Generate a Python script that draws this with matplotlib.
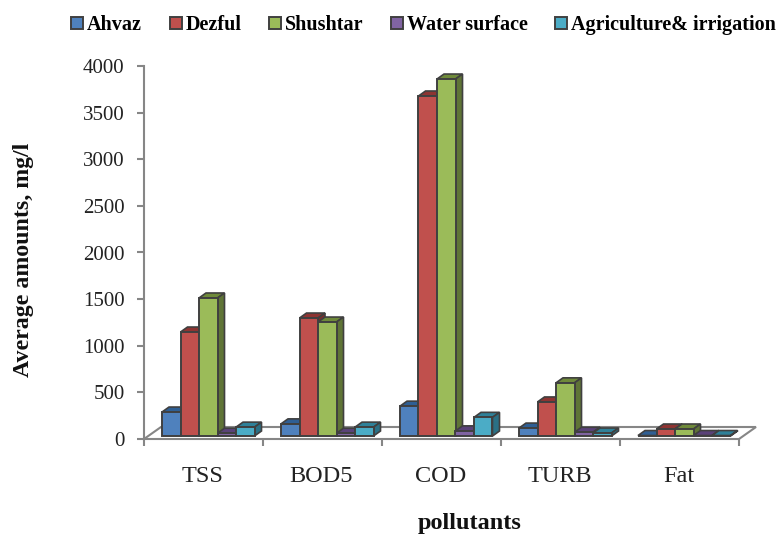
import matplotlib
matplotlib.use("Agg")
import matplotlib.pyplot as plt
from matplotlib.patches import Patch, Polygon

pollutants = ["TSS", "BOD5", "COD", "TURB", "Fat"]
ahvaz = [257, 130, 320, 85, 5]
dezful = [1115, 1265, 3646, 365, 75]
shushtar = [1480, 1222, 3828, 570, 75]
water_surface = [30, 30, 55, 40, 5]
agriculture = [95, 95, 200, 32, 5]
y_ticks = [0, 500, 1000, 1500, 2000, 2500, 3000, 3500, 4000]

series_names = ["Ahvaz", "Dezful", "Shushtar", "Water surface", "Agriculture& irrigation"]
series = [ahvaz, dezful, shushtar, water_surface, agriculture]
front_colors = ["#4F81BD", "#C0504D", "#9BBB59", "#8064A2", "#4BACC6"]
top_colors = ["#2F5F94", "#8E3432", "#6F8A3A", "#5A4279", "#2F8199"]
side_colors = ["#2C5580", "#7A2E2C", "#5F7436", "#4C3868", "#2A7085"]
edge = "#404040"
axis_gray = "#868686"

plt.rcParams["font.family"] = ["Liberation Serif", "DejaVu Serif"]

W, H = 778, 535
fig = plt.figure(figsize=(W / 100, H / 100), dpi=100)
ax = fig.add_axes([144 / W, (H - 439) / H, 595 / W, 373 / H])
ax.set_xlim(0, 5)
ax.set_ylim(0, 4000)

# pseudo 3d offsets, in data units
px_x = 5 / 595
px_y = 4000 / 373
bar_w = 18.5 * px_x
dx = 7 * px_x
dy = 5 * px_y
floor_y = 3 * px_y
gap = 18 * px_x

# floor outline behind the bars
floor_x = 17 * px_x
floor_h = 12 * px_y
ax.add_patch(Polygon([(0, 0), (floor_x, floor_h), (5 + floor_x, floor_h), (5, 0)],
                     closed=False, fill=False, edgecolor=axis_gray, lw=1.5,
                     clip_on=False, zorder=1))

z = 2
for i in range(len(pollutants)):
    for j, vals in enumerate(series):
        x0 = i + gap + j * bar_w
        y1 = floor_y + vals[i]
        x1 = x0 + bar_w
        top = Polygon([(x0, y1), (x0 + dx, y1 + dy), (x1 + dx, y1 + dy), (x1, y1)],
                      facecolor=top_colors[j], edgecolor=edge, lw=1.2, clip_on=False, zorder=z)
        side = Polygon([(x1, floor_y), (x1 + dx, floor_y + dy), (x1 + dx, y1 + dy), (x1, y1)],
                       facecolor=side_colors[j], edgecolor=edge, lw=1.2, clip_on=False, zorder=z)
        ax.add_patch(top)
        ax.add_patch(side)
        ax.bar(x0, vals[i], bar_w, bottom=floor_y, align="edge", color=front_colors[j],
               edgecolor=edge, lw=1.4, zorder=z + 0.5, clip_on=False)
        z += 1

for s in ["top", "right"]:
    ax.spines[s].set_visible(False)
for s in ["left", "bottom"]:
    ax.spines[s].set_color(axis_gray)
    ax.spines[s].set_linewidth(1.5)

ax.set_yticks(y_ticks)
ax.set_xticks(range(6))
ax.set_xticklabels([])
ax.tick_params(axis="both", color=axis_gray, width=1.5, length=5)
ax.tick_params(axis="y", labelsize=15, labelcolor="#222222", pad=9)

for i, name in enumerate(pollutants):
    ax.annotate(name, (i + 0.5, 0), xytext=(-1, -37), textcoords="offset pixels",
                ha="center", va="center", fontsize=17.5, color="#222222")

fig.text(470 / W, 1 - 523 / H, "pollutants", ha="center", va="center",
         fontsize=17.5, fontweight="bold", color="#111111")
fig.text(24 / W, 1 - 260 / H, "Average amounts, mg/l", rotation=90, ha="center", va="center",
         fontsize=17.2, fontweight="bold", color="#111111")

handles = [Patch(facecolor=c, edgecolor=edge, lw=1.4) for c in front_colors]
ax.legend(handles, series_names, ncol=5, loc="center left", bbox_to_anchor=(71 / W, 1 - 25 / H),
          bbox_transform=fig.transFigure, frameon=False, borderpad=0, borderaxespad=0,
          handlelength=0.6, handleheight=0.55, handletextpad=0.2, columnspacing=1.36,
          prop={"size": 14.5, "weight": "bold"})

fig.savefig("out.png", dpi=100)
